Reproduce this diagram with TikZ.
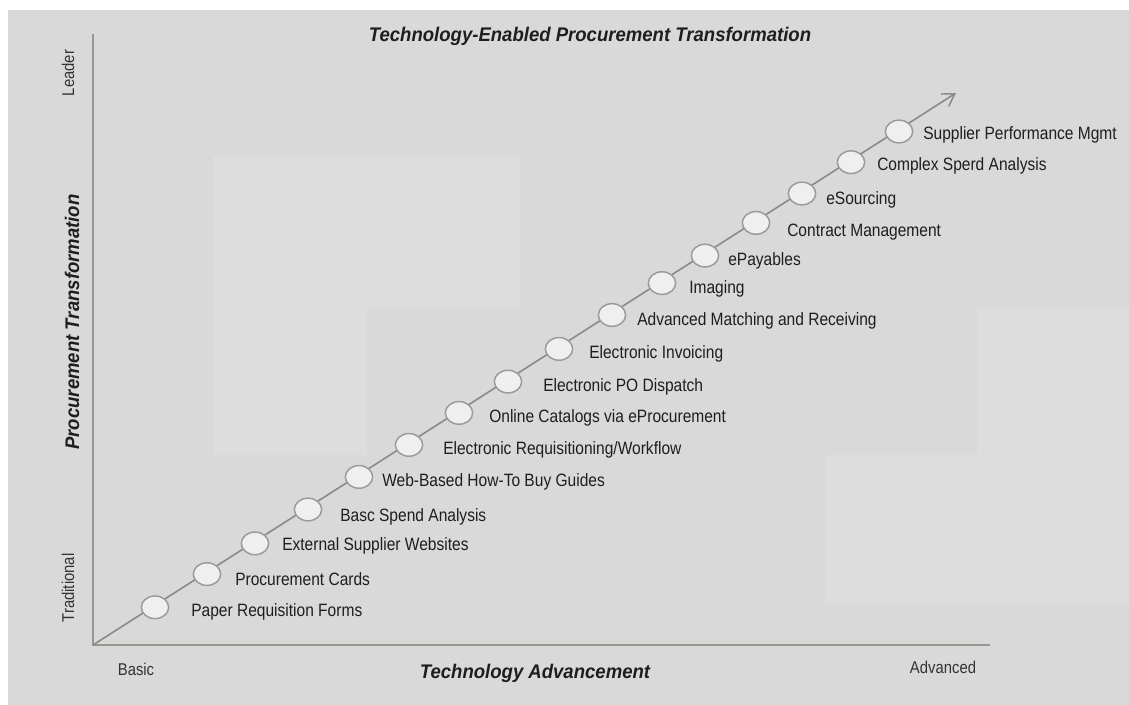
\documentclass[tikz,border=0pt]{standalone}
\usepackage{fontspec}
\setmainfont{Liberation Sans}
\newfontfamily\lblfont[FakeStretch=0.87]{Liberation Sans}
\newfontfamily\headfont[FakeStretch=0.94]{Liberation Sans}
\usetikzlibrary{arrows.meta,shapes.geometric}
\definecolor{bg}{HTML}{D9D9D9}
\definecolor{tile}{HTML}{DDDDDD}
\definecolor{axisgray}{HTML}{9A9690}
\definecolor{linegray}{HTML}{8A8A8A}
\definecolor{dotfill}{HTML}{EFEFEF}
\definecolor{dotedge}{HTML}{9A9A9A}
\definecolor{ink}{HTML}{1E1E1E}
\definecolor{softink}{HTML}{333333}

\begin{document}
\begin{tikzpicture}[x=0.75pt,y=-0.75pt,
  axisline/.style={draw=axisgray,line width=1.5pt},
  trend/.style={draw=linegray,line width=1.2pt,
    -{Straight Barb[length=9pt,width=11pt,line width=1.1pt]}},
  dot/.style={ellipse,draw=dotedge,fill=dotfill,line width=1.1pt,
    minimum width=20.5pt,minimum height=17pt,inner sep=0pt},
  lbl/.style={anchor=base west,inner sep=0pt,text=ink,
    font=\lblfont\fontsize{13.4}{15}\selectfont},
  endlbl/.style={inner sep=0pt,text=softink,
    font=\lblfont\fontsize{12.8}{14}\selectfont},
  heading/.style={inner sep=0pt,text=ink,
    font=\headfont\bfseries\itshape\fontsize{14.8}{16}\selectfont}]

% page and panel
\useasboundingbox (0,0) rectangle (1129,705);
\fill[white] (0,0) rectangle (1129,705);
\fill[bg] (8,10) rectangle (1129,705);
\fill[tile] (213,157) rectangle (520,307);
\fill[tile] (213,307) rectangle (367,455);
\fill[tile] (977,307) rectangle (1129,455);
\fill[tile] (825,455) rectangle (1129,603);

% axes
\coordinate (origin) at (93,645);
\coordinate (ytop) at (93,34);
\coordinate (xend) at (990,645);
\coordinate (tip) at (956,93);
\draw[axisline] (ytop) -- (origin) -- (xend);

% rising trend line
\draw[trend] (origin) -- (tip);

% milestones along the trend
\node[dot] (e1)  at (155,607.3) {};
\node[dot] (e2)  at (207,574.1) {};
\node[dot] (e3)  at (255,543.4) {};
\node[dot] (e4)  at (308,509.5) {};
\node[dot] (e5)  at (359,476.9) {};
\node[dot] (e6)  at (409,444.9) {};
\node[dot] (e7)  at (459,412.9) {};
\node[dot] (e8)  at (508,381.6) {};
\node[dot] (e9)  at (559,348.9) {};
\node[dot] (e10) at (612,315.0) {};
\node[dot] (e11) at (662,283.1) {};
\node[dot] (e12) at (705,255.6) {};
\node[dot] (e13) at (756,222.9) {};
\node[dot] (e14) at (802,193.5) {};
\node[dot] (e15) at (851,162.2) {};
\node[dot] (e16) at (899,131.5) {};

% milestone labels
\node[lbl] (l1)  at (191,617) {Paper Requisition Forms};
\node[lbl] (l2)  at (235,586) {Procurement Cards};
\node[lbl] (l3)  at (282,551) {External Supplier Websites};
\node[lbl] (l4)  at (340,522) {Basc Spend Analysis};
\node[lbl] (l5)  at (382,487) {Web-Based How-To Buy Guides};
\node[lbl] (l6)  at (443,455) {Electronic Requisitioning/Workflow};
\node[lbl] (l7)  at (489,423) {Online Catalogs via eProcurement};
\node[lbl] (l8)  at (543,392) {Electronic PO Dispatch};
\node[lbl] (l9)  at (589,359) {Electronic Invoicing};
\node[lbl] (l10) at (637,325.5) {Advanced Matching and Receiving};
\node[lbl] (l11) at (689,294) {Imaging};
\node[lbl] (l12) at (728,266) {ePayables};
\node[lbl] (l13) at (787,237) {Contract Management};
\node[lbl] (l14) at (826,205) {eSourcing};
\node[lbl] (l15) at (877,171) {Complex Sperd Analysis};
\node[lbl] (l16) at (923,140) {Supplier Performance Mgmt};

% titles and axis ends
\node[heading] (title) at (590,36) {Technology-Enabled Procurement Transformation};
\node[heading] (xtitle) at (535,673) {Technology Advancement};
\node[heading,rotate=90] (ytitle) at (72,322) {Procurement Transformation};
\node[endlbl,rotate=90] (leader) at (68,73) {Leader};
\node[endlbl,rotate=90] (trad) at (68,588) {Traditional};
\node[endlbl] (basic) at (136,669) {Basic};
\node[endlbl] (adv) at (943,667) {Advanced};
\end{tikzpicture}
\end{document}
